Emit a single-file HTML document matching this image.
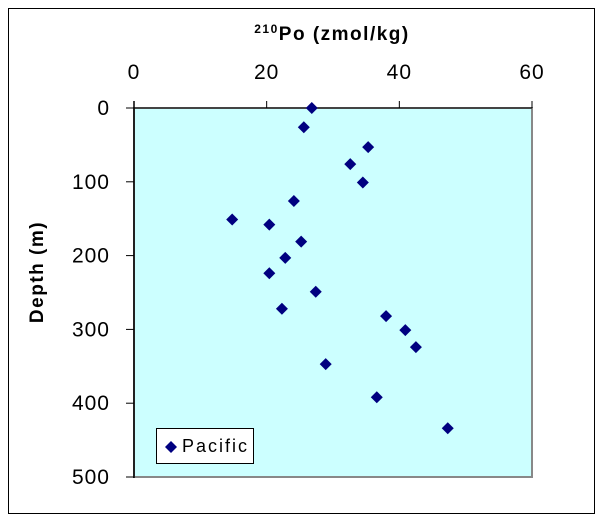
<!DOCTYPE html>
<html><head><meta charset="utf-8"><style>
body{margin:0;background:#fff;}
svg text{font-family:"Liberation Sans",Arial,sans-serif;}
</style></head><body>
<svg width="603" height="523" viewBox="0 0 603 523" xmlns="http://www.w3.org/2000/svg">
<rect x="8.5" y="8.5" width="586" height="505" fill="#fff" stroke="#000"/>
<rect x="134" y="108" width="398" height="369" fill="#ccffff" stroke="#888" stroke-width="2"/>
<line x1="134" y1="101" x2="134" y2="478" stroke="#000" stroke-width="1.5"/>
<line x1="126" y1="108" x2="532" y2="108" stroke="#000" stroke-width="1"/>
<g id="xt"></g>
<g id="yt"></g>
<text x="332" y="40" text-anchor="middle" style="font-size:19px;font-weight:bold;letter-spacing:1.5px"><tspan style="font-size:12px" dy="-7">210</tspan><tspan dy="7">Po (zmol/kg)</tspan></text>
<text transform="translate(43,272) rotate(-90)" text-anchor="middle" style="font-size:19px;font-weight:bold;letter-spacing:1.5px">Depth (m)</text>
<g id="pts"></g>
<rect x="156.5" y="428.5" width="97" height="35" fill="#fff" stroke="#000"/>
<path d="M171 441 L177 447 L171 453 L165 447 Z" fill="#000080"/>
<text x="182" y="452" style="font-size:18px;letter-spacing:2px">Pacific</text>
</svg>
<script>
const xTicks=[0,20,40,60];
const yTicks=[0,100,200,300,400,500];
const poValues=[26.8,25.6,35.3,32.6,34.5,24.1,14.8,20.4,25.2,22.8,20.4,27.4,22.3,38,40.9,42.5,28.9,36.6,47.3];
const depthValues=[0,26,53,76,101,126,151,158,181,203,224,249,272,282,301,324,347,392,434];
const NS="http://www.w3.org/2000/svg";
const xs=v=>134+v*(398/60);
const ys=v=>108+v*(369/500);
function mk(t,a){const e=document.createElementNS(NS,t);for(const k in a)e.setAttribute(k,a[k]);return e;}
const xt=document.getElementById('xt'),yt=document.getElementById('yt'),pts=document.getElementById('pts');
xTicks.forEach(v=>{
 const l=mk('line',{x1:xs(v),x2:xs(v),y1:101,y2:108,stroke:'#000'});
 
 
 xt.appendChild(l);
 const t=mk('text',{x:xs(v),y:79,'text-anchor':'middle',style:'font-size:21px;letter-spacing:1px'});
 t.textContent=v;
 
 
 xt.appendChild(t);
});
yTicks.forEach(v=>{
 const l=mk('line',{x1:126,x2:134,y1:ys(v),y2:ys(v),stroke:'#000'});
 
 
 yt.appendChild(l);
 const t=mk('text',{x:110,y:ys(v)+7,'text-anchor':'end',style:'font-size:21px;letter-spacing:1px'});
 t.textContent=v;
 
 
 yt.appendChild(t);
});
poValues.forEach((v,i)=>{
 const x=xs(v),y=ys(depthValues[i]);
 const p=mk('path',{d:`M${x} ${y-6} L${x+6} ${y} L${x} ${y+6} L${x-6} ${y} Z`,fill:'#000080'});
 
 
 pts.appendChild(p);
});
</script>
</body></html>
